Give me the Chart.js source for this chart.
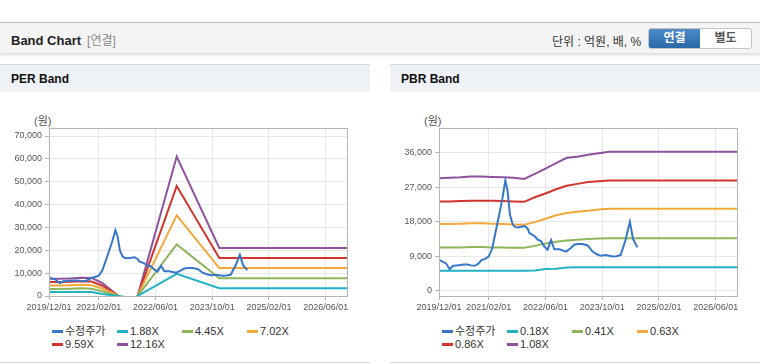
<!DOCTYPE html>
<html lang="ko">
<head>
<meta charset="utf-8">
<title>Band Chart</title>
<script src="https://cdn.jsdelivr.net/npm/chart.js@4.4.1/dist/chart.umd.min.js"></script>
<style>
    body {
        margin: 0;
        width: 760px;
        height: 364px;
        overflow: hidden;
        background: #fff;
        font-family: "Liberation Sans", "Noto Sans CJK KR", sans-serif;
        position: relative;
    }
    #top-bar {
        position: absolute;
        left: 0; top: 22px;
        width: 760px; height: 30px;
        border-top: 1px solid #bdbdbd;
        background: #f4f4f4;
        box-shadow: 0 2px 3px rgba(0, 0, 0, 0.15);
    }
    #top-bar .title {
        position: absolute; left: 11px; top: 8px;
        font-size: 13px; font-weight: bold; color: #222;
    }
    #top-bar .sub {
        margin-left: 6px; font-size: 12px; font-weight: normal; color: #8a8a8a;
    }
    #top-bar .unit {
        position: absolute; left: 552px; top: 9px;
        font-size: 12px; color: #333;
    }
    .btns {
        position: absolute; left: 648px; top: 5px;
        width: 102px; height: 19px;
        border: 1px solid #c4c4c4; border-radius: 3px;
        background: #fff; overflow: hidden;
        font-size: 12px; font-weight: bold;
    }
    .btns span {
        float: left; width: 51px; height: 19px; line-height: 19px; text-align: center;
    }
    .btns .on { background: linear-gradient(#4d8bcb, #2a67a6); color: #fff; }
    .btns .off { color: #555; }
    .panel {
        position: absolute; top: 64px;
        width: 370px; height: 297px;
        border-top: 1px solid #d8d8d8;
        border-bottom: 1px solid #d8d8d8;
        background: #fff;
    }
    .panel .head {
        height: 27px; line-height: 29px;
        padding-left: 11px;
        background: #eef1f6;
        font-size: 12px; font-weight: bold; color: #111;
    }
    .panel canvas {
        position: absolute; left: 0; top: 35px;
    }
    .panel .unit-label {
        position: absolute; left: 34px; top: 47px;
        font-size: 11px; color: #555;
    }
    .legend {
        position: absolute; left: 52px; top: 260px;
        width: 300px;
        font-size: 11px; color: #333;
    }
    .legend .item {
        display: inline-block; width: 65px; height: 13px; line-height: 13px;
        white-space: nowrap;
    }
    .legend .swatch {
        display: inline-block; width: 11px; height: 3px;
        vertical-align: middle; margin-right: 2px; margin-top: -2px;
    }
</style>
</head>
<body>
<div id="top-bar">
    <div class="title">Band Chart<span class="sub">[연결]</span></div>
    <div class="unit">단위 : 억원, 배, %</div>
    <div class="btns"><span class="on">연결</span><span class="off">별도</span></div>
</div>

<div class="panel" style="left:0;">
    <div class="head">PER Band</div>
    <div class="unit-label">(원)</div>
    <canvas id="per-chart" width="370" height="215"></canvas>
    <div class="legend" id="per-legend"></div>
</div>

<div class="panel" style="left:390px;">
    <div class="head">PBR Band</div>
    <div class="unit-label">(원)</div>
    <canvas id="pbr-chart" width="370" height="215"></canvas>
    <div class="legend" id="pbr-legend"></div>
</div>

<script>
// x axis is months since 2019/12
const xTickMonths = [0, 14, 30, 46, 62, 78];
const xTickLabels = ['2019/12/01', '2021/02/01', '2022/06/01', '2023/10/01', '2025/02/01', '2026/06/01'];

const perTicks = [0, 10000, 20000, 30000, 40000, 50000, 60000, 70000];
const pbrTicks = [0, 9000, 18000, 27000, 36000];

const priceLabel = '수정주가';
const priceMonths = [0, 1, 2, 3, 4, 5, 6, 7, 8, 9, 10, 11, 12, 13, 14, 15, 16, 17, 17.8, 18.7,
    19.3, 20, 20.8, 21.5, 22.2, 23.2, 24.1, 25, 25.5, 26.4, 27.2, 27.8, 28.7, 29.7, 30.6,
    31.6, 32.5, 33.9, 35.8, 37, 38.1, 39.2, 40.4, 41.9, 43.3, 44.5, 45.6, 47, 48.9, 50,
    51.2, 52.6, 53.8, 54.7, 55.9];
const priceValues = [8000, 7600, 7100, 5600, 6500, 6600, 6700, 6800, 6800, 6600, 6500, 7000,
    8000, 8300, 8900, 11000, 15500, 20000, 23700, 28800, 26300, 19800, 17200, 16600, 16500,
    16700, 16900, 16200, 15000, 14600, 14000, 13300, 13000, 11500, 10700, 13200, 10800, 10800,
    10200, 11000, 12000, 12200, 12200, 11800, 10200, 9500, 9100, 9300, 8900, 9000, 9300, 13300,
    18000, 13500, 11300];

// PER band
const perLabels = ['1.88X', '4.45X', '7.02X', '9.59X', '12.16X'];
const perMonths = [0, 3, 6, 9, 12, 15, 18, 21, 24, 36, 48, 84];
const per188 = [1700, 1700, 1700, 1800, 1700, 900, 300, -300, -850, 9700, 3400, 3400];
const per445 = [3100, 3100, 3200, 3400, 3200, 2100, 700, -600, -2000, 22600, 7800, 7800];
const per702 = [4600, 4600, 4700, 4900, 4700, 3300, 1200, -1000, -3100, 35300, 12200, 12200];
const per959 = [6100, 6100, 6200, 6500, 6300, 4500, 1600, -1300, -4300, 48100, 16600, 16600];
const per1216 = [7500, 7500, 7700, 8000, 7900, 5700, 2000, -1700, -5400, 61000, 21000, 21000];

// PBR band
const pbrLabels = ['0.18X', '0.41X', '0.63X', '0.86X', '1.08X'];
const pbrMonths = [0, 3, 6, 9, 12, 15, 18, 21, 24, 27, 30, 33, 36, 39, 42, 45, 48, 84];
const pbr018 = [5230, 5230, 5230, 5230, 5230, 5230, 5230, 5230, 5230, 5250, 5650, 5750, 6050, 6120, 6120, 6120, 6120, 6120];
const pbr041 = [11250, 11250, 11300, 11400, 11400, 11300, 11250, 11200, 11200, 11700, 12300, 12800, 13100, 13300, 13500, 13600, 13700, 13700];
const pbr063 = [17400, 17400, 17500, 17600, 17600, 17500, 17400, 17300, 17200, 17900, 18800, 19700, 20300, 20600, 20900, 21200, 21400, 21400];
const pbr086 = [23300, 23300, 23400, 23500, 23500, 23500, 23400, 23300, 23200, 24400, 25400, 26500, 27400, 27900, 28400, 28600, 28800, 28800];
const pbr108 = [29400, 29500, 29600, 29800, 29800, 29700, 29600, 29500, 29200, 30500, 31900, 33300, 34700, 35000, 35500, 35900, 36300, 36300];

const priceColor = '#3677c9';
const bandColors = ['#22b2c4', '#8db55a', '#f2a93b', '#d2352e', '#8e529d'];

// box around the plot area (top and right sides too)
const plotBorder = {
    id: 'plotBorder',
    afterDraw(chart) {
        const { ctx, chartArea: a } = chart;
        ctx.save();
        ctx.strokeStyle = '#b5b5b5';
        ctx.lineWidth = 1;
        ctx.strokeRect(Math.round(a.left) + 0.5, Math.round(a.top) + 0.5,
            Math.round(a.right - a.left), Math.round(a.bottom - a.top));
        ctx.restore();
    }
};

function toPoints(xs, ys) {
    return xs.map((x, i) => ({ x: x, y: ys[i] }));
}

function makeChart(canvasId, legendId, bandMonths, bands, bandLabels, yMin, yMax, yTicks) {
    const datasets = [{
        label: priceLabel,
        data: toPoints(priceMonths, priceValues),
        borderColor: priceColor,
        backgroundColor: priceColor
    }];
    bands.forEach((vals, i) => {
        datasets.push({
            label: bandLabels[i],
            data: toPoints(bandMonths, vals),
            borderColor: bandColors[i],
            backgroundColor: bandColors[i]
        });
    });

    const tickFont = { family: '"Liberation Sans", sans-serif', size: 9 };

    const chart = new Chart(document.getElementById(canvasId), {
        type: 'line',
        data: { datasets },
        options: {
            responsive: false,
            animation: false,
            layout: { padding: { left: 0, right: 23, top: 28, bottom: 0 } },
            elements: {
                line: { borderWidth: 2, tension: 0 },
                point: { radius: 0, hoverRadius: 0 }
            },
            plugins: {
                legend: { display: false },
                tooltip: { enabled: false }
            },
            scales: {
                x: {
                    type: 'linear',
                    min: 0,
                    max: 84,
                    afterBuildTicks: scale => {
                        scale.ticks = xTickMonths.map(v => ({ value: v }));
                    },
                    afterFit: scale => { scale.height = 19; },
                    ticks: {
                        autoSkip: false,
                        maxRotation: 0,
                        padding: 2,
                        color: '#555',
                        font: tickFont,
                        callback: v => xTickLabels[xTickMonths.indexOf(v)]
                    },
                    grid: { color: '#e8e8e8', tickColor: '#b5b5b5', tickLength: 4 },
                    border: { color: '#b5b5b5' }
                },
                y: {
                    min: yMin,
                    max: yMax,
                    afterBuildTicks: scale => {
                        scale.ticks = yTicks.map(v => ({ value: v }));
                    },
                    afterFit: scale => { scale.width = 49; },
                    ticks: {
                        padding: 3,
                        color: '#555',
                        font: tickFont,
                        callback: v => v.toLocaleString('en-US')
                    },
                    grid: { color: '#e8e8e8', tickColor: '#b5b5b5', tickLength: 4 },
                    border: { color: '#b5b5b5' }
                }
            }
        },
        plugins: [plotBorder]
    });

    // legend in fixed columns like the original page
    const legend = document.getElementById(legendId);
    chart.data.datasets.forEach(ds => {
        const item = document.createElement('span');
        item.className = 'item';
        const sw = document.createElement('span');
        sw.className = 'swatch';
        sw.style.background = ds.borderColor;
        item.appendChild(sw);
        item.appendChild(document.createTextNode(ds.label));
        legend.appendChild(item);
    });
    return chart;
}

makeChart('per-chart', 'per-legend', perMonths,
    [per188, per445, per702, per959, per1216], perLabels, 0, 73500, perTicks);
makeChart('pbr-chart', 'pbr-legend', pbrMonths,
    [pbr018, pbr041, pbr063, pbr086, pbr108], pbrLabels, -1400, 42500, pbrTicks);
</script>
</body>
</html>
